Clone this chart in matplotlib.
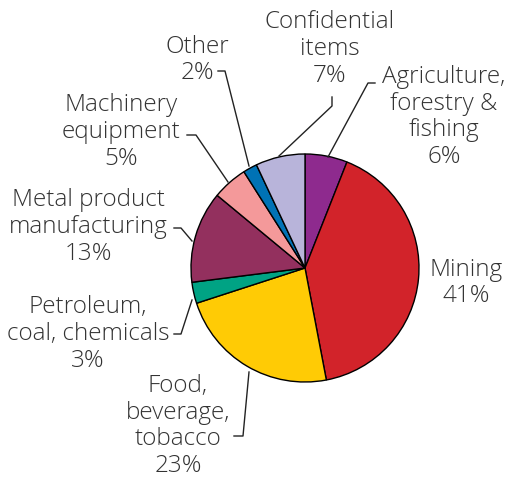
import matplotlib.pyplot as plt

# data, clockwise from 12 o'clock
sectors = ["Agriculture,\nforestry &\nfishing", "Mining", "Food,\nbeverage,\ntobacco",
           "Petroleum,\ncoal, chemicals", "Metal product\nmanufacturing",
           "Machinery\nequipment", "Other", "Confidential\nitems"]
shares = [6, 41, 23, 3, 13, 5, 2, 7]

colors = ["#8E2A8E", "#D2232A", "#FFCB05", "#00A384", "#93305E",
          "#F4999A", "#0072B5", "#B8B4DA"]

W, H = 511, 479
# label centres (pixels, top-left origin)
label_pos = [(444, 117), (466, 283), (178, 426), (88, 334), (88, 227),
             (121, 132), (197, 60), (330, 49)]
# leader lines, pixel points
leaders = [
    [(375, 83), (368, 83), (328, 157)],
    None,
    [(234, 436), (243, 436), (249, 372)],
    [(174, 334), (181, 334), (192, 300)],
    [(174, 228), (181, 228), (192, 241)],
    [(187, 135), (196, 135), (228, 182)],
    [(218, 71), (225, 71), (249, 166)],
    [(332, 97), (332, 106), (279, 156)],
]

plt.rcParams['font.family'] = ['Open Sans', 'DejaVu Sans']

fig = plt.figure(figsize=(W / 100, H / 100), dpi=100)
ax = fig.add_axes([0, 0, 1, 1])

ax.pie(shares, colors=colors, startangle=90, counterclock=False,
       center=(305, H - 268), radius=114,
       wedgeprops=dict(edgecolor="black", linewidth=1.0))
ax.set_xlim(0, W)
ax.set_ylim(0, H)
ax.set_aspect("equal")
ax.axis("off")

for name, pct, (x, y), ln in zip(sectors, shares, label_pos, leaders):
    ax.text(x, H - y, f"{name}\n{pct}%", ha="center", va="center",
            fontsize=17.5, fontweight="light", color="#333333",
            linespacing=1.16)
    if ln:
        ax.plot([p[0] for p in ln], [H - p[1] for p in ln],
                color="#222222", lw=1.0)

fig.savefig("out.png", dpi=100)
